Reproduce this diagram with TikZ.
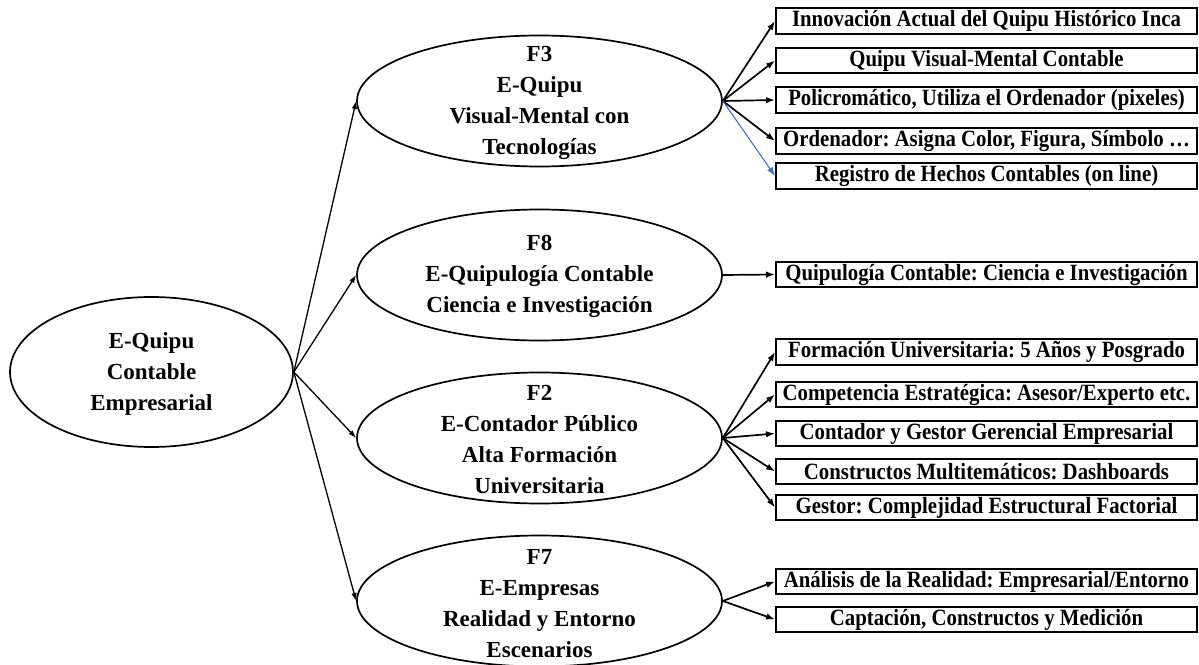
\documentclass[tikz,border=0pt]{standalone}
\usepackage{fontspec}
\setmainfont{Liberation Serif}
\usetikzlibrary{shapes.geometric,arrows.meta}
\definecolor{arrblue}{RGB}{68,114,196}
\newcommand\bxt[1]{\scalebox{1}[1.12]{#1}}
\frenchspacing
\begin{document}
\begin{tikzpicture}[x=1bp,y=-1bp,
  ell/.style={ellipse,draw,line width=1.7bp,minimum width=365bp,minimum height=131bp,inner sep=0pt},
  mainell/.style={ellipse,draw,line width=1.7bp,minimum width=283bp,minimum height=150bp,inner sep=0pt},
  etxt/.style={align=center,inner sep=0pt,font=\bfseries\fontsize{23bp}{31bp}\selectfont},
  box/.style={rectangle,draw,line width=1.9bp,minimum width=421bp,minimum height=25.5bp,inner sep=0pt,font=\bfseries\fontsize{20.8bp}{24bp}\selectfont},
  arr/.style={line width=1.3bp,-{Latex[length=8bp,width=5.5bp]}},
  fan/.style={line width=1.7bp,-{Latex[length=9bp,width=6.5bp]}}
]
\useasboundingbox (0,0) rectangle (1199,665);

% main ellipse
\node[mainell] (main) at (151.5,372) {};
\node[etxt] (maint) at (151.5,374) {E-Quipu\\Contable\\Empresarial};

% factor ellipses
\node[ell] (f3) at (539.5,101) {};
\node[etxt] (f3t) at (539.5,103) {F3\\E-Quipu\\Visual-Mental con\\Tecnologías};
\node[ell] (f8) at (539.5,275) {};
\node[etxt] (f8t) at (539.5,276) {F8\\E-Quipulogía Contable\\Ciencia e Investigación};
\node[ell] (f2) at (539.5,438) {};
\node[etxt] (f2t) at (539.5,439) {F2\\E-Contador Público\\Alta Formación\\Universitaria};
\node[ell] (f7) at (539.5,601) {};
\node[etxt] (f7t) at (539.5,604) {F7\\E-Empresas\\Realidad y Entorno\\Escenarios};

% boxes F3
\node[box] (b31) at (986.5,21) {\bxt{Innovación Actual del Quipu Histórico Inca}};
\node[box] (b32) at (986.5,60.5) {\bxt{Quipu Visual-Mental Contable}};
\node[box] (b33) at (986.5,100) {\bxt{Policromático, Utiliza el Ordenador (pixeles)}};
\node[box] (b34) at (986.5,141) {\bxt{Ordenador: Asigna Color, Figura, Símbolo …}};
\node[box] (b35) at (986.5,176) {\bxt{Registro de Hechos Contables (on line)}};
% box F8
\node[box] (b81) at (986.5,274.5) {\bxt{Quipulogía Contable: Ciencia e Investigación}};
% boxes F2
\node[box] (b21) at (986.5,352) {\bxt{Formación Universitaria: 5 Años y Posgrado}};
\node[box] (b22) at (986.5,394.5) {\bxt{Competencia Estratégica: Asesor/Experto etc.}};
\node[box] (b23) at (986.5,433.5) {\bxt{Contador y Gestor Gerencial Empresarial}};
\node[box] (b24) at (986.5,471.5) {\bxt{Constructos Multitemáticos: Dashboards}};
\node[box] (b25) at (986.5,507.5) {\bxt{Gestor: Complejidad Estructural Factorial}};
% boxes F7
\node[box] (b71) at (986.5,581.5) {\bxt{Análisis de la Realidad: Empresarial/Entorno}};
\node[box] (b72) at (986.5,619.5) {\bxt{Captación, Constructos y Medición}};

% main arrows
\draw[arr] (main.east) -- (f3.west);
\draw[arr] (main.east) -- (f8.west);
\draw[arr] (main.east) -- (f2.west);
\draw[arr] (main.east) -- (f7.west);

% fans
\draw[fan] (f3.east) -- (b31.west);
\draw[fan] (f3.east) -- (b32.west);
\draw[fan] (f3.east) -- (b33.west);
\draw[fan] (f3.east) -- (b34.west);
\draw[fan,arrblue,line width=1.1bp] (f3.east) -- (b35.west);
\draw[fan] (f8.east) -- (b81.west);
\draw[fan] (f2.east) -- (b21.west);
\draw[fan] (f2.east) -- (b22.west);
\draw[fan] (f2.east) -- (b23.west);
\draw[fan] (f2.east) -- (b24.west);
\draw[fan] (f2.east) -- (b25.west);
\draw[fan] (f7.east) -- (b71.west);
\draw[fan] (f7.east) -- (b72.west);
\end{tikzpicture}
\end{document}
